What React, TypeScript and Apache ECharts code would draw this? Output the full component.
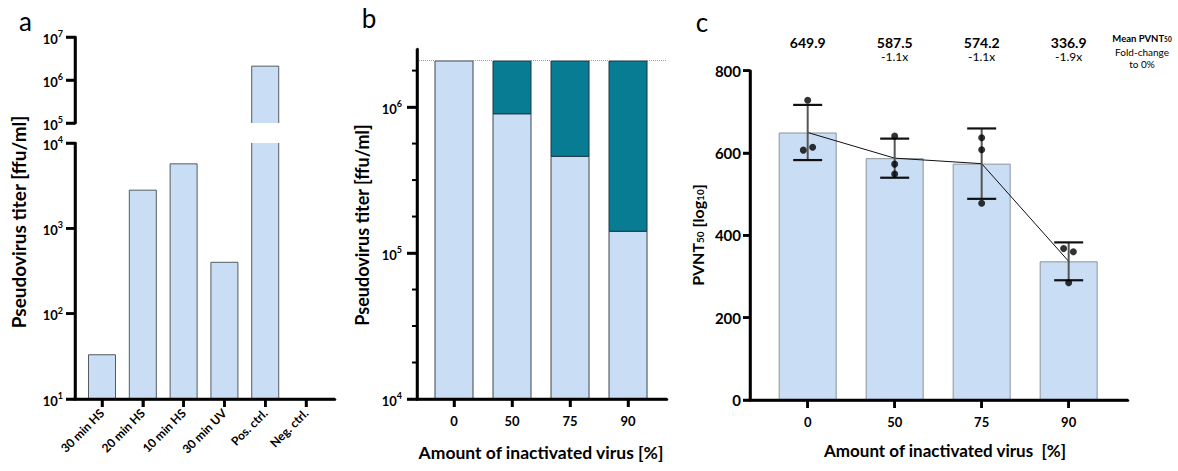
import React, { useEffect, useRef } from 'react';
import * as echarts from 'echarts';

const FONT = 'Lato';

// ---- Panel a ----
const catsA = ['30 min HS', '20 min HS', '10 min HS', '30 min UV', 'Pos. ctrl.', 'Neg. ctrl.'];
const titerA: (number | null)[] = [33, 2800, 5700, 400, 2100000, null];
const yTicksALow = [10, 100, 1000, 10000];
const yTicksAHigh = [100000, 1000000, 10000000];

// ---- Panel b ----
const catsB = ['0', '50', '75', '90'];
const totalB = 2070000;
const activeB = [2070000, 900000, 460000, 141000];
const majorTicksB = [4, 5, 6];
const minorTicksB = [4.25, 4.5, 4.75, 5.25, 5.5, 5.75, 6.25];

// ---- Panel c ----
const catsC = ['0', '50', '75', '90'];
const meanC = [649.9, 587.5, 574.2, 336.9];
const sdC = [67, 47.5, 85.5, 46];
const yTicksC = [0, 200, 400, 600, 800];
const pointsC = [
  [728, 607, 614],
  [641, 573, 549],
  [637, 608, 478],
  [368, 360, 285],
];
const jitterC = [
  [0, -0.05, 0.057],
  [0, 0, 0],
  [0, 0, 0],
  [-0.058, 0.054, 0],
];

const LIGHT = '#c9ddf5';
const TEAL = '#077c93';

const X_A: [number, number] = [-0.662, 5.71];
const X_B: [number, number] = [-0.638, 3.672];
const X_C: [number, number] = [-0.663, 3.682];

const supRich = () => ({
  b: { fontSize: 13, fontWeight: 'bold', fontFamily: FONT, color: '#000', lineHeight: 16, verticalAlign: 'bottom' },
  s: { fontSize: 9, fontWeight: 'bold', fontFamily: FONT, color: '#000', lineHeight: 16, verticalAlign: 'top' },
});

const shownLine = () => ({ show: true, onZero: false, lineStyle: { color: '#000', width: 2.5 } });
const shownTick = (len: number, vals?: number[]) => {
  const t: any = { show: true, length: len, lineStyle: { color: '#000', width: 2.5 } };
  if (vals) t.customValues = vals;
  return t;
};

// bar inside its grid; an edge cut by the grid gets no border (axis-break look)
const clippedBar = (halfW: number) => (params: any, api: any) => {
  const cs = params.coordSys;
  const v = api.value(1);
  if (v == null || isNaN(v)) return null;
  const p = api.coord([api.value(0), v]);
  const yBottom = cs.y + cs.height;
  const cut = p[1] < cs.y;
  const yTop = Math.max(p[1], cs.y);
  if (yTop >= yBottom) return null;
  const x0 = p[0] - halfW;
  const x1 = p[0] + halfW;
  const stroke = { stroke: '#555a60', lineWidth: 1, fill: null };
  const children: any[] = [
    { type: 'rect', shape: { x: x0, y: yTop, width: 2 * halfW, height: yBottom - yTop }, style: { fill: LIGHT } },
  ];
  if (cut) {
    children.push({ type: 'line', shape: { x1: x0, y1: yTop, x2: x0, y2: yBottom }, style: stroke });
    children.push({ type: 'line', shape: { x1: x1, y1: yTop, x2: x1, y2: yBottom }, style: stroke });
  } else {
    children.push({ type: 'polyline', shape: { points: [[x0, yBottom], [x0, yTop], [x1, yTop], [x1, yBottom]] }, style: stroke });
  }
  return { type: 'group', children };
};

// panel b: light part from the axis floor up to the remaining titer, teal part up to the total
const stackedBar = (halfW: number) => (params: any, api: any) => {
  const cs = params.coordSys;
  const x = api.value(0);
  const pV = api.coord([x, api.value(1)]);
  const pT = api.coord([x, api.value(2)]);
  const bottom = cs.y + cs.height;
  const x0 = pV[0] - halfW;
  const children: any[] = [
    { type: 'rect', shape: { x: x0, y: pV[1], width: 2 * halfW, height: bottom - pV[1] }, style: { fill: LIGHT, stroke: '#3d4650', lineWidth: 1 } },
  ];
  if (pT[1] < pV[1] - 0.5) {
    children.push({ type: 'rect', shape: { x: x0, y: pT[1], width: 2 * halfW, height: pV[1] - pT[1] }, style: { fill: TEAL, stroke: '#1b3642', lineWidth: 1 } });
  }
  return { type: 'group', children };
};

// axis frame: kind 0 = x tick, 1 = y tick, 2 = x axis line, 3 = y axis line, 4 = minor y tick
const frame = (xLen: number, yLen: number, minorLen: number, lw: number) => (params: any, api: any) => {
  const cs = params.coordSys;
  const kind = api.value(0);
  const p = api.coord([api.value(1), api.value(2)]);
  const left = cs.x;
  const bottom = cs.y + cs.height;
  let shape: any;
  if (kind === 0) shape = { x1: p[0], y1: bottom, x2: p[0], y2: bottom + xLen };
  else if (kind === 1) shape = { x1: left, y1: p[1], x2: left - yLen, y2: p[1] };
  else if (kind === 2) shape = { x1: left - lw / 2, y1: bottom, x2: cs.x + cs.width, y2: bottom };
  else if (kind === 3) shape = { x1: left, y1: cs.y, x2: left, y2: bottom + lw / 2 };
  else shape = { x1: left, y1: p[1], x2: left - minorLen, y2: p[1] };
  return { type: 'line', shape, style: { stroke: '#000', lineWidth: kind === 4 ? 2 : lw } };
};

export default function App() {
  const ref = useRef<HTMLDivElement>(null);

  useEffect(() => {
    if (!ref.current) return;
    const chart = echarts.init(ref.current, undefined, { renderer: 'svg' });

    const idxA = catsA.map((_, i) => i);
    const idxB = catsB.map((_, i) => i);
    const idxC = catsC.map((_, i) => i);
    const foldC = meanC.map((m, i) => (i === 0 ? ' ' : `-${(meanC[0] / m).toFixed(1)}x`));

    // reference coordinates inside each grid (only the tick value is used for placement)
    const frameA = [
      ...idxA.map((i) => [0, i, yTicksALow[1]]),
      ...yTicksALow.map((v) => [1, 0, v]),
      [2, 0, yTicksALow[1]],
      [3, 0, yTicksALow[1]],
    ];
    const frameAHigh = [...yTicksAHigh.map((v) => [1, 0, v]), [3, 0, yTicksAHigh[1]]];
    const frameB = [
      ...idxB.map((i) => [0, i, majorTicksB[1]]),
      ...majorTicksB.map((v) => [1, 0, v]),
      ...minorTicksB.map((v) => [4, 0, v]),
      [2, 0, majorTicksB[1]],
      [3, 0, majorTicksB[1]],
    ];
    const frameC = [
      ...idxC.map((i) => [0, i, yTicksC[2]]),
      ...yTicksC.map((v) => [1, 0, v]),
      [2, 0, yTicksC[2]],
      [3, 0, yTicksC[2]],
    ];

    const frameSeries = (xi: number, yi: number, data: any[], r: any) => ({
      type: 'custom', xAxisIndex: xi, yAxisIndex: yi, z: 10, silent: true, clip: false,
      data, encode: { x: 1, y: 2 }, renderItem: r,
    });

    const option: any = {
      animation: false,
      backgroundColor: '#fff',
      grid: [
        { left: 75, top: 143, width: 260, height: 256 },
        { left: 75, top: 37, width: 260, height: 86 },
        { left: 417, top: 49, width: 250, height: 350 },
        { left: 750, top: 70.7, width: 378, height: 329.3 },
      ],
      xAxis: [
        {
          gridIndex: 0, type: 'value', min: X_A[0], max: X_A[1], position: 'bottom',
          axisLine: shownLine(), axisTick: shownTick(8, idxA), splitLine: { show: false },
          axisLabel: {
            customValues: idxA, rotate: 45, margin: 12,
            fontSize: 12, fontWeight: 'bold', color: '#000', fontFamily: FONT,
            formatter: (v: number) => catsA[Math.round(v)] ?? '',
          },
        },
        {
          gridIndex: 1, type: 'value', min: X_A[0], max: X_A[1], position: 'bottom',
          axisLine: { show: false, onZero: false }, axisTick: { show: false }, axisLabel: { show: false }, splitLine: { show: false },
        },
        {
          gridIndex: 2, type: 'value', min: X_B[0], max: X_B[1], position: 'bottom',
          axisLine: shownLine(), axisTick: shownTick(8, idxB), splitLine: { show: false },
          axisLabel: {
            customValues: idxB, margin: 15,
            fontSize: 13, fontWeight: 'bold', color: '#000', fontFamily: FONT,
            formatter: (v: number) => catsB[Math.round(v)] ?? '',
          },
        },
        {
          gridIndex: 3, type: 'value', min: X_C[0], max: X_C[1], position: 'bottom',
          axisLine: shownLine(), axisTick: shownTick(8, idxC), splitLine: { show: false },
          axisLabel: {
            customValues: idxC, margin: 15,
            fontSize: 13, fontWeight: 'bold', color: '#000', fontFamily: FONT,
            formatter: (v: number) => catsC[Math.round(v)] ?? '',
          },
        },
        {
          gridIndex: 3, type: 'value', min: X_C[0], max: X_C[1], position: 'top',
          axisLine: { show: false, onZero: false }, axisTick: { show: false }, splitLine: { show: false },
          axisLabel: {
            customValues: idxC, margin: 7,
            formatter: (v: number) => {
              const i = Math.round(v);
              return `{m|${meanC[i].toFixed(1)}}\n{f|${foldC[i]}}`;
            },
            rich: {
              m: { fontSize: 14, fontWeight: 'bold', color: '#000', fontFamily: FONT, lineHeight: 14 },
              f: { fontSize: 12, color: '#000', fontFamily: FONT, lineHeight: 14 },
            },
          },
        },
      ],
      yAxis: [
        {
          gridIndex: 0, type: 'log', min: 10, max: 10000, position: 'left',
          axisLine: shownLine(), axisTick: shownTick(9), splitLine: { show: false },
          axisLabel: {
            margin: 12,
            formatter: (v: number) => `{b|10}{s|${Math.round(Math.log10(v))}}`,
            rich: supRich(),
          },
        },
        {
          gridIndex: 1, type: 'log', min: 100000, max: 10000000, position: 'left',
          axisLine: shownLine(), axisTick: shownTick(9), splitLine: { show: false },
          axisLabel: {
            margin: 12,
            formatter: (v: number) => `{b|10}{s|${Math.round(Math.log10(v))}}`,
            rich: supRich(),
          },
        },
        {
          gridIndex: 2, type: 'value', min: 4, max: 6.398, position: 'left',
          axisLine: shownLine(), axisTick: shownTick(10, majorTicksB), splitLine: { show: false },
          axisLabel: {
            customValues: majorTicksB, margin: 15,
            formatter: (v: number) => `{b|10}{s|${Math.round(v)}}`,
            rich: supRich(),
          },
        },
        {
          gridIndex: 3, type: 'value', min: 0, max: 800, interval: 200, position: 'left',
          axisLine: shownLine(), axisTick: shownTick(7), splitLine: { show: false },
          axisLabel: { margin: 9, fontSize: 15, fontWeight: 'bold', color: '#000', fontFamily: FONT },
        },
      ],
      series: [
        {
          type: 'custom', xAxisIndex: 0, yAxisIndex: 0, clip: false,
          data: titerA.map((v, i) => [i, v == null ? '-' : v]),
          encode: { x: 0, y: 1 },
          renderItem: clippedBar(13.5),
        },
        {
          type: 'custom', xAxisIndex: 1, yAxisIndex: 1, clip: false,
          data: titerA.map((v, i) => [i, v == null ? '-' : v]),
          encode: { x: 0, y: 1 },
          renderItem: clippedBar(13.5),
        },
        {
          type: 'custom', xAxisIndex: 2, yAxisIndex: 2, clip: false,
          data: activeB.map((v, i) => [i, Math.log10(v), Math.log10(totalB)]),
          encode: { x: 0, y: [1, 2] },
          renderItem: stackedBar(19),
        },
        {
          type: 'bar', xAxisIndex: 2, yAxisIndex: 2, barWidth: 38, clip: false,
          data: activeB.map((_, i) => [i, '-']),
          markLine: {
            silent: true, symbol: 'none', label: { show: false },
            lineStyle: { type: 'dotted', color: '#999', width: 1 },
            data: [{ yAxis: Math.log10(totalB) }],
          },
        },
        {
          type: 'bar', xAxisIndex: 3, yAxisIndex: 3, barWidth: 58, clip: false,
          data: meanC.map((v, i) => [i, v]),
          itemStyle: { color: LIGHT, borderColor: '#8d939a', borderWidth: 1 },
        },
        {
          type: 'line', xAxisIndex: 3, yAxisIndex: 3, symbol: 'none', z: 3, clip: false,
          data: meanC.map((v, i) => [i, v]),
          lineStyle: { color: '#111', width: 1 },
        },
        {
          type: 'custom', xAxisIndex: 3, yAxisIndex: 3, z: 4, clip: false,
          data: meanC.map((m, i) => [i, m - sdC[i], m + sdC[i]]),
          encode: { x: 0, y: [1, 2] },
          renderItem: (params: any, api: any) => {
            const x = api.value(0);
            const pLo = api.coord([x, api.value(1)]);
            const pHi = api.coord([x, api.value(2)]);
            const hw = 14.5;
            return {
              type: 'group',
              children: [
                { type: 'line', shape: { x1: pLo[0], y1: pLo[1], x2: pHi[0], y2: pHi[1] }, style: { stroke: '#555', lineWidth: 2 } },
                { type: 'line', shape: { x1: pHi[0] - hw, y1: pHi[1], x2: pHi[0] + hw, y2: pHi[1] }, style: { stroke: '#111', lineWidth: 2.2 } },
                { type: 'line', shape: { x1: pLo[0] - hw, y1: pLo[1], x2: pLo[0] + hw, y2: pLo[1] }, style: { stroke: '#111', lineWidth: 2.2 } },
              ],
            };
          },
        },
        {
          type: 'scatter', xAxisIndex: 3, yAxisIndex: 3, z: 5, symbolSize: 7, clip: false,
          data: pointsC.flatMap((arr, i) => arr.map((v, j) => [i + jitterC[i][j], v])),
          itemStyle: { color: '#000' },
        },
        frameSeries(0, 0, frameA, frame(8, 9, 5, 2.5)),
        frameSeries(1, 1, frameAHigh, frame(8, 9, 5, 2.5)),
        frameSeries(2, 2, frameB, frame(8, 10, 5, 2.5)),
        frameSeries(3, 3, frameC, frame(8, 7, 5, 2.5)),
      ],
      graphic: [
        { type: 'text', x: 25.5, y: 20.5, style: { text: 'a', fontSize: 26, fontFamily: FONT, fill: '#000', align: 'center', verticalAlign: 'middle' } },
        { type: 'text', x: 369, y: 18, style: { text: 'b', fontSize: 26, fontFamily: FONT, fill: '#000', align: 'center', verticalAlign: 'middle' } },
        { type: 'text', x: 702, y: 21.5, style: { text: 'c', fontSize: 26, fontFamily: FONT, fill: '#000', align: 'center', verticalAlign: 'middle' } },
        {
          type: 'text', x: 18, y: 222, rotation: Math.PI / 2,
          style: { text: 'Pseudovirus titer [ffu/ml]', fontSize: 19, fontWeight: 'bold', fontFamily: FONT, fill: '#000', align: 'center', verticalAlign: 'middle' },
        },
        {
          type: 'text', x: 362, y: 225, rotation: Math.PI / 2,
          style: { text: 'Pseudovirus titer [ffu/ml]', fontSize: 18, fontWeight: 'bold', fontFamily: FONT, fill: '#000', align: 'center', verticalAlign: 'middle' },
        },
        {
          type: 'text', x: 695, y: 235, rotation: Math.PI / 2,
          style: {
            text: '{t|PVNT}{u|50}{t| [log}{u|10}{t|]}',
            align: 'center', verticalAlign: 'middle',
            rich: {
              t: { fontSize: 16, fontWeight: 'bold', fontFamily: FONT, fill: '#000', lineHeight: 20, verticalAlign: 'bottom' },
              u: { fontSize: 10, fontWeight: 'bold', fontFamily: FONT, fill: '#000', lineHeight: 16, verticalAlign: 'bottom' },
            },
          },
        },
        {
          type: 'text', x: 541, y: 452,
          style: { text: 'Amount of inactivated virus [%]', fontSize: 17.5, fontWeight: 'bold', fontFamily: FONT, fill: '#000', align: 'center', verticalAlign: 'middle' },
        },
        {
          type: 'text', x: 945, y: 450,
          style: { text: 'Amount of inactivated virus  [%]', fontSize: 17, fontWeight: 'bold', fontFamily: FONT, fill: '#000', align: 'center', verticalAlign: 'middle' },
        },
        {
          type: 'text', x: 1142, y: 37,
          style: {
            text: '{t|Mean PVNT}{u|50}',
            align: 'center', verticalAlign: 'middle',
            rich: {
              t: { fontSize: 9.5, fontWeight: 'bold', fontFamily: FONT, fill: '#000', lineHeight: 12, verticalAlign: 'bottom' },
              u: { fontSize: 6.5, fontWeight: 'bold', fontFamily: FONT, fill: '#000', lineHeight: 9, verticalAlign: 'bottom' },
            },
          },
        },
        {
          type: 'text', x: 1142, y: 52,
          style: { text: 'Fold-change', fontSize: 10, fontFamily: FONT, fill: '#000', align: 'center', verticalAlign: 'middle' },
        },
        {
          type: 'text', x: 1142, y: 63.5,
          style: { text: 'to 0%', fontSize: 10, fontFamily: FONT, fill: '#000', align: 'center', verticalAlign: 'middle' },
        },
      ],
    };

    chart.setOption(option);
    return () => chart.dispose();
  }, []);

  return (
    <div
      ref={ref}
      style={{ position: 'fixed', left: 0, top: 0, width: 1178, height: 471, background: '#fff' }}
    />
  );
}
